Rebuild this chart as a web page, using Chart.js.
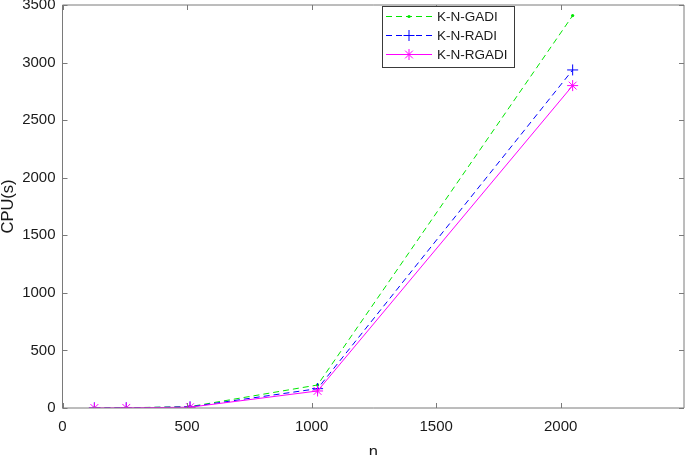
<!DOCTYPE html>
<html>
<head>
<meta charset="utf-8">
<script src="https://cdn.jsdelivr.net/npm/chart.js@4/dist/chart.umd.min.js"></script>
<style>
  html, body { margin: 0; padding: 0; background: #ffffff; }
  #wrap { width: 685px; height: 455px; }
</style>
</head>
<body>
<div id="wrap"><canvas id="c" width="685" height="455"></canvas></div>
<script>
// ---- data ----
const nValues = [128, 256, 512, 1024, 2048];
const gadiCPU  = [0.3, 1.8, 12, 200, 3408];
const radiCPU  = [0.3, 1.5, 10, 168, 2936];
const rgadiCPU = [0.2, 1.2, 7, 148, 2800];
const seriesLabels = ['K-N-GADI', 'K-N-RADI', 'K-N-RGADI'];
const xTicks = [0, 500, 1000, 1500, 2000];
const yTicks = [0, 500, 1000, 1500, 2000, 2500, 3000, 3500];
const xTitle = 'n';
const yTitle = 'CPU(s)';

const FONT = '"Liberation Sans", Arial, Helvetica, sans-serif';
const TEXT = '#1a1a1a';
const AXIS = '#7a7a7a';

function pts(ys) { return nValues.map((x, i) => ({ x: x, y: ys[i] })); }

function drawMarker(ctx, style, x, y, r, color) {
  ctx.save();
  ctx.strokeStyle = color; ctx.fillStyle = color; ctx.lineWidth = 1; ctx.setLineDash([]);
  ctx.beginPath();
  if (style === 'circle') {
    ctx.arc(x, y, r, 0, Math.PI * 2); ctx.fill();
  } else if (style === 'cross') {
    ctx.moveTo(x - r, y); ctx.lineTo(x + r, y);
    ctx.moveTo(x, y - r); ctx.lineTo(x, y + r); ctx.stroke();
  } else if (style === 'star') {
    const d = r * Math.SQRT1_2;
    ctx.moveTo(x - r, y); ctx.lineTo(x + r, y);
    ctx.moveTo(x, y - r); ctx.lineTo(x, y + r);
    ctx.moveTo(x - d, y - d); ctx.lineTo(x + d, y + d);
    ctx.moveTo(x - d, y + d); ctx.lineTo(x + d, y - d); ctx.stroke();
  }
  ctx.restore();
}

const boxPlugin = {
  id: 'matlabBox',
  afterDraw(chart) {
    const ctx = chart.ctx;
    const a = chart.chartArea;
    const xs = chart.scales.x, ys = chart.scales.y;
    ctx.save();
    ctx.strokeStyle = AXIS; ctx.lineWidth = 1; ctx.setLineDash([]);
    ctx.beginPath();
    ctx.rect(a.left, a.top, a.right - a.left, a.bottom - a.top);
    ctx.stroke();
    const tl = 5;
    ctx.beginPath();
    xs.ticks.forEach(t => {
      const px = Math.round(xs.getPixelForValue(t.value)) + 0.5;
      ctx.moveTo(px, a.bottom); ctx.lineTo(px, a.bottom - tl);
      ctx.moveTo(px, a.top); ctx.lineTo(px, a.top + tl);
    });
    ys.ticks.forEach(t => {
      const py = Math.round(ys.getPixelForValue(t.value)) + 0.5;
      ctx.moveTo(a.left, py); ctx.lineTo(a.left + tl, py);
      ctx.moveTo(a.right, py); ctx.lineTo(a.right - tl, py);
    });
    ctx.stroke();

    // legend box (upper right, inside axes)
    const lx = 382, ly = 6, lw = 132, lh = 61;
    ctx.fillStyle = '#ffffff';
    ctx.fillRect(lx, ly, lw, lh);
    ctx.strokeStyle = '#3a3a3a';
    ctx.strokeRect(lx + 0.5, ly + 0.5, lw, lh);
    const rowY = [16.5, 35.5, 54.5];
    chart.data.datasets.forEach((ds, i) => {
      const y = rowY[i];
      ctx.save();
      ctx.strokeStyle = ds.borderColor; ctx.lineWidth = 1;
      ctx.setLineDash(ds.borderDash || []);
      ctx.beginPath(); ctx.moveTo(386, y); ctx.lineTo(432, y); ctx.stroke();
      ctx.restore();
      drawMarker(ctx, ds.pointStyle, 409, y, ds.pointRadius, ds.borderColor);
      ctx.fillStyle = TEXT;
      ctx.font = '13.5px ' + FONT;
      ctx.textBaseline = 'middle';
      ctx.textAlign = 'left';
      ctx.fillText(ds.label, 437, y + 0.5);
    });
    ctx.restore();
  }
};

new Chart(document.getElementById('c'), {
  type: 'line',
  data: {
    datasets: [
      { label: seriesLabels[0], data: pts(gadiCPU), borderColor: '#00e600', backgroundColor: '#00e600',
        borderWidth: 1, borderDash: [6, 4], pointStyle: 'circle', pointRadius: 1.6,
        pointBorderWidth: 0, order: 2 },
      { label: seriesLabels[1], data: pts(radiCPU), borderColor: '#0000ff', backgroundColor: '#0000ff',
        borderWidth: 1, borderDash: [6, 4], pointStyle: 'cross', pointRadius: 5.5,
        pointBorderWidth: 1, order: 1 },
      { label: seriesLabels[2], data: pts(rgadiCPU), borderColor: '#ff00ff', backgroundColor: '#ff00ff',
        borderWidth: 1, pointStyle: 'star', pointRadius: 5.5,
        pointBorderWidth: 1, order: 0 }
    ]
  },
  options: {
    responsive: false,
    animation: false,
    devicePixelRatio: 1,
    layout: { autoPadding: false, padding: { top: 5, right: 1, left: 0, bottom: 0 } },
    plugins: { legend: { display: false }, tooltip: { enabled: false } },
    elements: { line: { tension: 0, fill: false } },
    scales: {
      x: {
        type: 'linear', min: 0, max: 2495,
        afterBuildTicks: s => { s.ticks = xTicks.map(v => ({ value: v })); },
        afterFit: s => { s.height = 47; s.paddingLeft = 0; s.paddingRight = 0; },
        grid: { display: false, drawTicks: false },
        border: { display: false },
        ticks: { color: TEXT, font: { family: FONT, size: 15 }, padding: 10, maxRotation: 0, autoSkip: false,
                 callback: v => String(v) },
        title: { display: true, text: xTitle, color: TEXT, font: { family: FONT, size: 16.5 },
                 padding: { top: 0, bottom: -7 } }
      },
      y: {
        type: 'linear', min: 0, max: 3500,
        afterBuildTicks: s => { s.ticks = yTicks.map(v => ({ value: v })); },
        afterFit: s => { s.width = 62.5; s.paddingTop = 0; s.paddingBottom = 0; },
        grid: { display: false, drawTicks: false },
        border: { display: false },
        ticks: { color: TEXT, font: { family: FONT, size: 15 }, padding: 7, autoSkip: false,
                 callback: v => String(v) },
        title: { display: true, text: yTitle, color: TEXT, font: { family: FONT, size: 16.5 },
                 padding: { top: -1, bottom: 0 } }
      }
    }
  },
  plugins: [boxPlugin]
});
</script>
</body>
</html>
